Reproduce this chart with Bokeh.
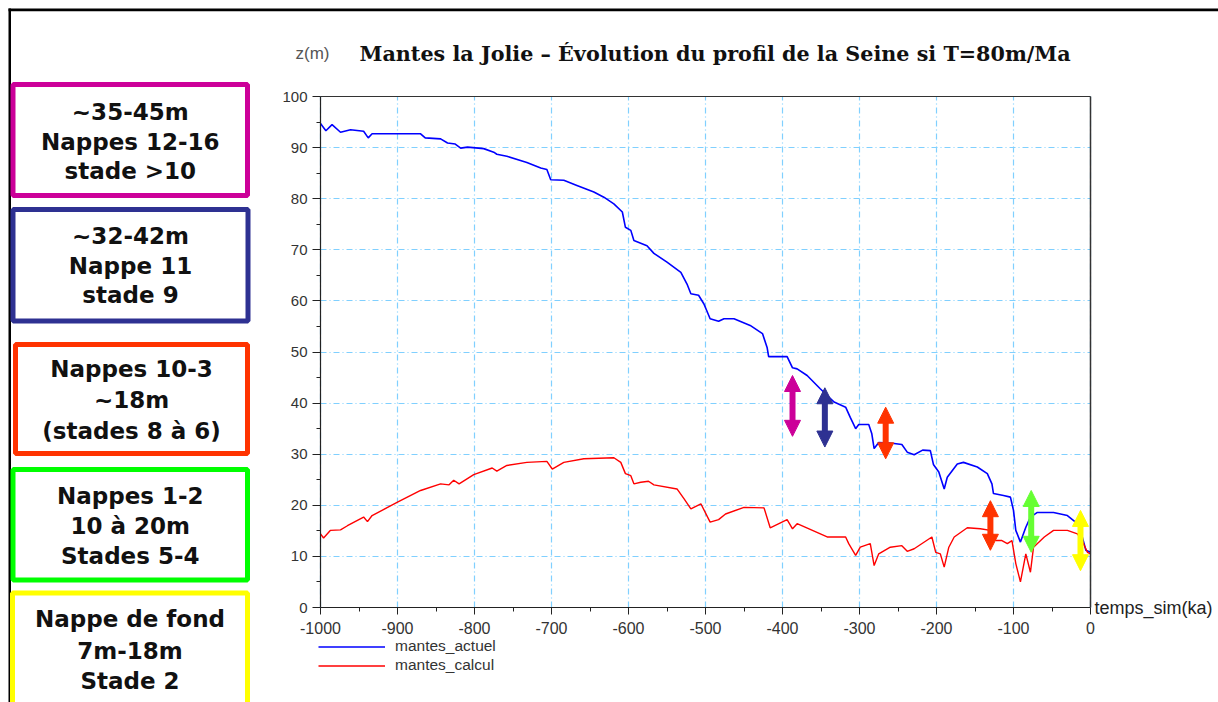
from bokeh.plotting import figure
from bokeh.models import (Range1d, Label, Legend, LegendItem, Arrow, NormalHead, FixedTicker,
                          BoxAnnotation, LinearAxis, Grid)
from bokeh.embed import file_html
from bokeh.resources import INLINE

# ---------------- data ----------------
blue_t = [-1000, -993, -985, -974, -961, -944, -938, -933, -870, -864, -844, -835, -825, -818,
          -809, -788, -775, -771, -758, -732, -714, -706, -701, -684, -667, -645, -632, -619,
          -608, -604, -597, -593, -576, -567, -550, -532, -524, -519, -509, -502, -494, -483,
          -476, -463, -442, -426, -420, -418, -394, -387, -381, -368, -351, -333, -318, -312,
          -305, -301, -288, -284, -281, -275, -260, -245, -238, -229, -218, -208, -204, -197,
          -190, -186, -173, -165, -147, -134, -128, -126, -113, -104, -100, -97, -91, -84,
          -78, -69, -48, -30, -17, -13, -6, 0]
blue_z = [94.7, 93.3, 94.5, 93.0, 93.5, 93.2, 91.9, 92.7, 92.7, 91.9, 91.7, 90.9, 90.7, 89.9,
          90.1, 89.8, 89.1, 88.7, 88.3, 87.1, 86.0, 85.7, 83.7, 83.6, 82.6, 81.3, 80.3, 79.0,
          77.4, 74.4, 73.8, 71.8, 70.8, 69.3, 67.6, 65.6, 63.3, 61.4, 61.1, 59.4, 56.5, 56.0,
          56.5, 56.5, 55.2, 53.6, 50.9, 49.1, 49.1, 46.9, 46.7, 45.4, 42.8, 40.2, 39.2, 37.2,
          35.0, 35.8, 35.8, 34.0, 31.1, 32.3, 32.2, 31.9, 30.4, 29.9, 30.8, 30.7, 28.0, 26.5,
          23.2, 25.5, 28.1, 28.4, 27.5, 26.2, 24.2, 22.3, 21.9, 21.6, 19.0, 15.1, 12.8, 15.7,
          17.7, 18.6, 18.6, 18.0, 16.4, 15.1, 11.2, 10.8]

red_t = [-1000, -996, -987, -974, -965, -944, -939, -933, -900, -870, -844, -833, -827, -820,
         -801, -777, -771, -758, -732, -706, -699, -684, -658, -619, -610, -604, -597, -593,
         -584, -574, -567, -537, -528, -519, -506, -494, -483, -474, -450, -424, -416, -394,
         -387, -381, -342, -318, -314, -305, -299, -286, -281, -275, -260, -245, -238, -229,
         -206, -201, -195, -190, -184, -177, -160, -143, -130, -123, -115, -108, -102, -97,
         -91, -84, -78, -74, -60, -48, -30, -17, -11, -4, 0]
red_z = [14.4, 13.6, 15.1, 15.2, 16.0, 17.7, 16.8, 18.0, 20.6, 22.9, 24.2, 24.0, 24.9, 24.2,
         26.0, 27.3, 26.7, 27.8, 28.4, 28.6, 27.1, 28.4, 29.1, 29.3, 28.4, 26.2, 25.8, 24.2,
         24.5, 24.7, 24.0, 23.2, 21.3, 19.3, 20.3, 16.7, 17.2, 18.3, 19.6, 19.5, 15.6, 17.2,
         15.4, 16.4, 13.8, 13.8, 12.5, 10.2, 11.8, 12.5, 8.2, 10.5, 11.8, 12.1, 11.0, 11.5,
         13.8, 10.8, 10.5, 7.9, 11.8, 13.8, 15.6, 15.4, 15.1, 13.1, 13.1, 12.5, 13.1, 8.6,
         5.0, 10.5, 6.9, 11.8, 13.8, 15.1, 15.1, 14.4, 13.1, 10.8, 10.5]

series_names = ["mantes_actuel", "mantes_calcul"]

arrow_t = [-387, -345, -266, -130, -77, -13]
arrow_lo = [33.5, 31.4, 29.1, 11.2, 10.8, 7.2]
arrow_hi = [45.4, 43.0, 39.2, 20.9, 22.9, 19.0]
arrow_colors = ["#cc0099", "#2e3192", "#ff3300", "#ff3300", "#66ff33", "#ffff00"]

x_ticks = [-1000, -900, -800, -700, -600, -500, -400, -300, -200, -100, 0]
x_minor = [-950, -850, -750, -650, -550, -450, -350, -250, -150, -50]
x_tick_labels = ["-1000", "-900", "-800", "-700", "-600", "-500", "-400", "-300", "-200", "-100", "0"]
y_ticks = [0, 10, 20, 30, 40, 50, 60, 70, 80, 90, 100]
y_minor = [5, 15, 25, 35, 45, 55, 65, 75, 85, 95]

title_text = "Mantes la Jolie \u2013 \u00c9volution du profil de la Seine si T=80m/Ma"
y_unit_text = "z(m)"
x_label_text = "temps_sim(ka)"

box_lines = [["~35-45m", "Nappes 12-16", "stade >10"],
             ["~32-42m", "Nappe 11", "stade 9"],
             ["Nappes 10-3", "~18m", "(stades 8 \u00e0 6)"],
             ["Nappes 1-2", "10 \u00e0 20m", "Stades 5-4"],
             ["Nappe de fond", "7m-18m", "Stade 2"]]
box_colors = ["#cc0099", "#2e3192", "#ff3300", "#00ff00", "#ffff00"]

# ---------------- layout constants (canvas pixels) ----------------
W, H = 1218, 702
FL, FR, FT, FB = 320, 1090, 96, 607          # chart area edges on the canvas
X0, X1 = x_ticks[0], x_ticks[-1]
Y0, Y1 = y_ticks[0], y_ticks[-1]


def px_to_x(px):
    return X0 + (px - FL) * (X1 - X0) / (FR - FL)


def py_to_y(py):
    return Y0 + (FB - py) * (Y1 - Y0) / (FB - FT)


# side boxes in canvas pixels
box_left = [12.5, 12.5, 15.0, 12.5, 12.0]
box_right = [247.0, 247.5, 247.0, 247.0, 247.0]
box_top = [84.0, 209.0, 344.0, 469.0, 592.5]
box_bottom = [195.0, 320.5, 453.0, 579.5, 720.0]
line_y = [[111.5, 141.0, 170.0], [235.5, 265.0, 294.5], [368.5, 399.0, 430.0],
          [495.0, 525.5, 555.0], [618.5, 650.0, 680.0]]

p = figure(width=W, height=H, output_backend="svg", toolbar_location=None,
           x_range=Range1d(px_to_x(0), px_to_x(W)), y_range=Range1d(py_to_y(H), py_to_y(0)),
           x_axis_type=None, y_axis_type=None, min_border=0, outline_line_color=None)

# ---- axes (drawn at fixed data locations) ----
xaxis = LinearAxis(fixed_location=Y0, bounds=(X0, X1),
                   ticker=FixedTicker(ticks=x_ticks, minor_ticks=x_minor))
xaxis.major_label_overrides = {t: l for t, l in zip(x_ticks, x_tick_labels)}
yaxis = LinearAxis(fixed_location=X0, bounds=(Y0, Y1),
                   ticker=FixedTicker(ticks=y_ticks, minor_ticks=y_minor))
for ax in (xaxis, yaxis):
    ax.axis_line_color = "#222222"
    ax.axis_line_width = 1.2
    ax.major_tick_line_color = "#222222"
    ax.minor_tick_line_color = "#222222"
    ax.major_tick_in = 0
    ax.minor_tick_in = 0
    ax.major_label_text_font = "Liberation Sans"
    ax.major_label_text_color = "#333333"
xaxis.major_label_text_font_size = "16px"
yaxis.major_label_text_font_size = "15px"
xaxis.major_tick_out = 7
xaxis.minor_tick_out = 4
xaxis.major_label_standoff = 7
yaxis.major_tick_out = 8
yaxis.minor_tick_out = 4
yaxis.major_label_standoff = 5
p.add_layout(xaxis, "below")
p.add_layout(yaxis, "left")

# top and right borders of the chart area
topaxis = LinearAxis(fixed_location=Y1, bounds=(X0, X1), ticker=FixedTicker(ticks=[]),
                     axis_line_color="#333333", axis_line_width=1,
                     major_tick_line_color=None, minor_tick_line_color=None)
rightaxis = LinearAxis(fixed_location=X1, bounds=(Y0, Y1), ticker=FixedTicker(ticks=[]),
                       axis_line_color="#333333", axis_line_width=1.5,
                       major_tick_line_color=None, minor_tick_line_color=None)
p.add_layout(topaxis, "above")
p.add_layout(rightaxis, "right")

# grids limited to the chart area
xgrid = Grid(dimension=0, ticker=xaxis.ticker, bounds=(X0, X1))
ygrid = Grid(dimension=1, ticker=yaxis.ticker, bounds=(Y0, Y1))
try:
    xgrid.cross_bounds = (Y0, Y1)
    ygrid.cross_bounds = (X0, X1)
except AttributeError:
    pass
for g in (xgrid, ygrid):
    g.grid_line_color = "#80d0ff"
    g.grid_line_dash = "6 3 1 3"
    g.grid_line_width = 1.2
    p.add_layout(g)

# frame lines of the whole picture
p.add_layout(BoxAnnotation(left=px_to_x(8), right=px_to_x(W + 20), top=py_to_y(8),
                           bottom=py_to_y(10.8), fill_color="black", fill_alpha=1,
                           line_alpha=0))
p.add_layout(BoxAnnotation(left=px_to_x(8), right=px_to_x(10.5), top=py_to_y(8),
                           bottom=py_to_y(H + 20), fill_color="black", fill_alpha=1,
                           line_alpha=0))

# side boxes
for i, lines in enumerate(box_lines):
    p.add_layout(BoxAnnotation(left=px_to_x(box_left[i]), right=px_to_x(box_right[i]),
                               top=py_to_y(box_top[i]), bottom=py_to_y(box_bottom[i]),
                               fill_alpha=0, line_color=box_colors[i], line_alpha=1,
                               line_width=5))
    cx = px_to_x((box_left[i] + box_right[i]) / 2)
    for j, t in enumerate(lines):
        p.add_layout(Label(x=cx, y=py_to_y(line_y[i][j]), text=t, text_font="DejaVu Sans",
                           text_font_style="bold", text_font_size="23px",
                           text_align="center", text_baseline="middle",
                           text_color="#111111"))

r1 = p.line(blue_t, blue_z, color="#0000ff", line_width=1.6)
r2 = p.line(red_t, red_z, color="#ff0000", line_width=1.4)

for x, lo, hi, c in zip(arrow_t, arrow_lo, arrow_hi, arrow_colors):
    pad = (hi - lo) * 0.15
    p.segment(x0=[x], y0=[lo + pad], x1=[x], y1=[hi - pad], line_color=c, line_width=6)
    p.add_layout(Arrow(x_start=x, y_start=lo, x_end=x, y_end=hi, line_alpha=0,
                       start=NormalHead(size=16, fill_color=c, line_color=c),
                       end=NormalHead(size=16, fill_color=c, line_color=c)))

p.add_layout(Label(x=px_to_x(295), y=py_to_y(53), text=y_unit_text, text_font="Liberation Sans",
                   text_font_size="17px", text_color="#555555", text_baseline="middle"))
p.add_layout(Label(x=px_to_x(359), y=py_to_y(53), text=title_text, text_font="DejaVu Serif",
                   text_font_style="bold", text_font_size="20.7px", text_color="#111111",
                   text_baseline="middle"))
p.add_layout(Label(x=X1, y=Y0, x_offset=4, text=x_label_text, text_font="Liberation Sans",
                   text_font_size="18px", text_color="#222222", text_baseline="middle"))

# legend: one row per series, placed under the axis
row_centers = [646, 665]
for name, rend, yc in zip(series_names, [r1, r2], row_centers):
    lg = Legend(items=[LegendItem(label=name, renderers=[rend])],
                location=(FL - 2, H - yc - 9), orientation="vertical", margin=0, padding=0,
                spacing=0, glyph_width=67, glyph_height=15, label_height=15,
                label_standoff=10, border_line_color=None, background_fill_alpha=0,
                label_text_font="Liberation Sans", label_text_font_size="15.5px",
                label_text_color="#333333")
    p.add_layout(lg, "center")

open("out.html", "w").write(file_html(p, INLINE))
